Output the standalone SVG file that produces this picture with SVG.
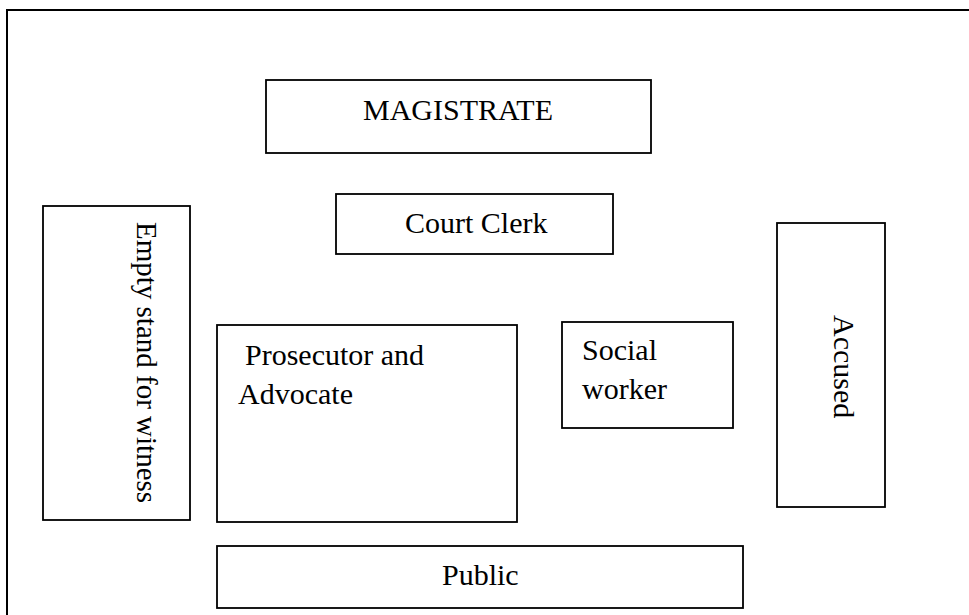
<svg xmlns="http://www.w3.org/2000/svg" width="969" height="615" viewBox="0 0 969 615">
<style>
.box{fill:#fff;stroke:#000;stroke-width:1.8}
.t{font-family:"Liberation Serif","Times New Roman",serif;font-size:30px;fill:#000}
</style>
<rect x="0" y="0" width="969" height="615" fill="#fff"/>
<rect id="frame" x="7" y="10" width="990" height="640" fill="none" stroke="#000" stroke-width="2"/>
<g id="magistrate"><rect class="box" x="266" y="80" width="385" height="73"/><text class="t" x="363" y="120">MAGISTRATE</text></g>
<g id="court-clerk"><rect class="box" x="336" y="194" width="277" height="60"/><text class="t" x="405" y="233">Court Clerk</text></g>
<g id="witness-stand"><rect class="box" x="43" y="206" width="147" height="314"/><text class="t" style="font-size:29px" transform="translate(137,222) rotate(90)">Empty stand for witness</text></g>
<g id="prosecutor"><rect class="box" x="217" y="325" width="300" height="197"/><text class="t" x="245" y="365">Prosecutor and</text><text class="t" x="238" y="404">Advocate</text></g>
<g id="social-worker"><rect class="box" x="562" y="322" width="171" height="106"/><text class="t" x="582" y="360">Social</text><text class="t" x="582" y="399">worker</text></g>
<g id="accused"><rect class="box" x="777" y="223" width="108" height="284"/><text class="t" transform="translate(834,315) rotate(90)">Accused</text></g>
<g id="public"><rect class="box" x="217" y="546" width="526" height="62"/><text class="t" x="442" y="585">Public</text></g>
<g id="connectors"/>
</svg>
